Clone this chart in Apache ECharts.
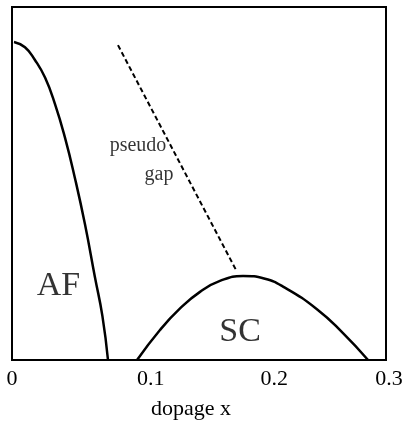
<!DOCTYPE html>
<html>
<head>
<meta charset="utf-8">
<script src="https://cdn.jsdelivr.net/npm/echarts@6/dist/echarts.min.js"></script>
<style>
html,body{margin:0;padding:0;background:#fff;}
#chart{width:406px;height:426px;}
</style>
</head>
<body>
<div id="chart"></div>
<script>
// AF boundary: [doping x, temperature (arb. units 0-100)]
const afX = [0.0016, 0.0104, 0.0184, 0.0265, 0.0345, 0.0425, 0.0505, 0.0585, 0.0665, 0.0725, 0.0770];
const afT = [90.1, 88.6, 85.0, 80.0, 72.5, 63.0, 51.5, 38.5, 23.5, 12.5, 0];
// SC dome
const scX = [0.1003, 0.1187, 0.1348, 0.1508, 0.1668, 0.1853, 0.2029, 0.2174, 0.2446, 0.2655, 0.2856];
const scT = [0, 8.5, 14.6, 19.3, 22.4, 23.8, 23.0, 20.8, 14.4, 7.6, 0];
// pseudogap line
const pgX = [0.085, 0.1797];
const pgT = [89.2, 25.5];
// tick labels
const tickValues = [0, 0.1, 0.2, 0.3];
const tickLabels = ['0', '0.1', '0.2', '0.3'];
const xName = 'dopage x';
// annotations [x, T, text]
const annX = [0.0373, 0.1829, 0.1011, 0.1179];
const annT = [21.0, 8.0, 60.6, 52.4];
const annText = ['AF', 'SC', 'pseudo', 'gap'];
const annKind = ['big', 'big', 'small', 'small'];

const zip = (xs, ys) => xs.map((x, i) => [x, ys[i]]);
const font = 'Liberation Serif';
const labelShift = {'0': 0, '0.1': 28, '0.2': 26, '0.3': 6};

const chart = echarts.init(document.getElementById('chart'), null, {renderer: 'canvas'});
chart.setOption({
  animation: false,
  backgroundColor: '#fff',
  grid: {left: 12, right: 20, top: 7, bottom: 66, show: true, borderColor: '#000', borderWidth: 2, backgroundColor: 'transparent'},
  xAxis: {
    type: 'value', min: 0, max: 0.3, interval: 0.1,
    name: xName, nameLocation: 'middle', nameGap: 38,
    nameTextStyle: {fontFamily: font, fontSize: 22, color: '#000', padding: [0, 16, 0, 0]},
    axisLine: {show: false}, axisTick: {show: false}, splitLine: {show: false},
    axisLabel: {
      margin: 8, color: '#000', fontFamily: font, fontSize: 22,
      formatter: function (v) {
        const i = tickValues.findIndex(t => Math.abs(t - v) < 1e-9);
        const s = i >= 0 ? tickLabels[i] : '';
        return '{t' + tickLabels.indexOf(s) + '|' + s + '}';
      },
      rich: Object.fromEntries(tickLabels.map((s, i) => ['t' + i, {fontFamily: font, fontSize: 22, color: '#000', padding: [0, 0, 0, labelShift[s]]}]))
    }
  },
  yAxis: {
    type: 'value', min: 0, max: 100,
    axisLine: {show: false}, axisTick: {show: false}, axisLabel: {show: false}, splitLine: {show: false}
  },
  series: [
    {type: 'line', data: zip(afX, afT), smooth: true, symbol: 'none', lineStyle: {color: '#000', width: 2.5}},
    {type: 'line', data: zip(scX, scT), smooth: true, symbol: 'none', lineStyle: {color: '#000', width: 2.5}},
    {type: 'line', data: zip(pgX, pgT), symbol: 'none', lineStyle: {color: '#000', width: 2, type: [5, 3]}},
    {
      type: 'scatter', symbolSize: 0, silent: true,
      data: annX.map((x, i) => ({
        value: [x, annT[i]],
        label: {
          show: true, position: 'inside', formatter: annText[i], color: '#000', fontFamily: font,
          fontSize: annKind[i] === 'big' ? 34 : 20
        }
      }))
    }
  ]
});
</script>
</body>
</html>
